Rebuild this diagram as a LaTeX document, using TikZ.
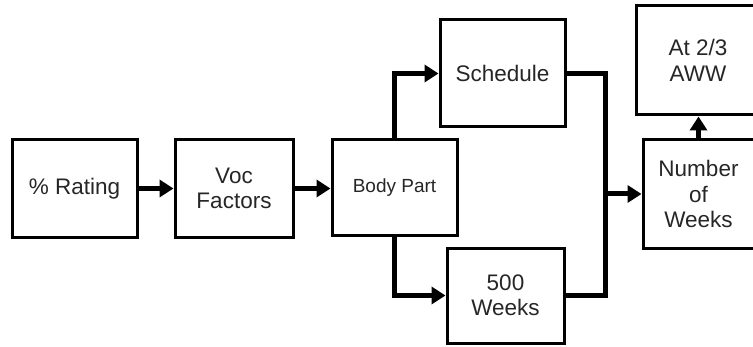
\documentclass[tikz,border=0pt]{standalone}
\usepackage{fontspec}
\setmainfont{Liberation Sans}
\usetikzlibrary{arrows.meta}
\definecolor{txt}{gray}{0.15}
\begin{document}
\begin{tikzpicture}[x=1pt,y=1pt,
  box/.style={draw=black,line width=3pt,rectangle,align=center,text=txt,
    font=\fontsize{22.5pt}{25.5pt}\selectfont,inner sep=0pt},
  conn/.style={line width=5pt,line join=miter},
  arr/.style={conn,-{Triangle[length=14pt,width=17pt]}}]
\useasboundingbox (0,0) rectangle (753,346);
\node[box,minimum width=125pt,minimum height=97pt] (r1) at (74.5,157.5) {\% Rating};
\node[box,minimum width=118pt,minimum height=97pt] (r2) at (234,157.5) {Voc\\Factors};
\node[box,minimum width=125pt,minimum height=95pt,font=\fontsize{19pt}{22pt}\selectfont] (r3) at (394.5,158.5) {Body Part};
\node[box,minimum width=125pt,minimum height=107pt] (sched) at (502.5,272.5) {Schedule};
\node[box,minimum width=117pt,minimum height=95pt] (w500) at (505.5,50.5) {500\\Weeks};
\node[box,minimum width=111pt,minimum height=108pt] (num) at (698.5,152) {Number\\of\\Weeks};
\node[box,minimum width=124pt,minimum height=109pt] (aww) at (698,285.5) {At 2/3\\AWW};
\coordinate (m) at (605,0);
\draw[arr] (r1.east) -- (r2.west);
\draw[arr] (r2.east) -- (r3.west |- r2.east);
\draw[arr] (r3.north) |- (sched.west);
\draw[arr] (r3.south) |- (w500.west);
\draw[conn] (sched.east) -- (sched.east -| m) -- (w500.east -| m) -- (w500.east);
\draw[arr] (num.west -| m) -- (num.west);
\draw[arr] (num.north) -- (num.north |- aww.south);
\end{tikzpicture}
\end{document}
